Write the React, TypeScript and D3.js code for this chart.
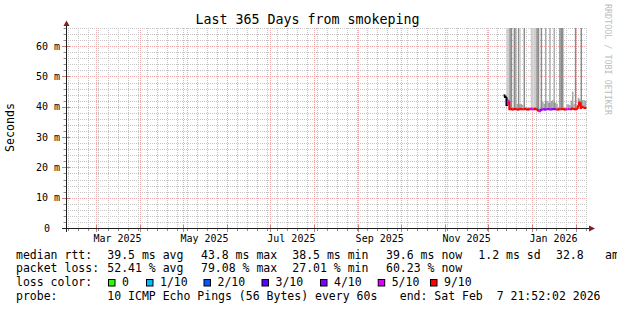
import React from 'react';
import * as d3 from 'd3';

const W = 617;
const H = 310;

const titleText = 'Last 365 Days from smokeping';
const yAxisTitle = 'Seconds';
const watermark = 'RRDTOOL / TOBI OETIKER';

const yTickValues = [0, 10, 20, 30, 40, 50, 60];
const yTickLabels = ['0', '10 m', '20 m', '30 m', '40 m', '50 m', '60 m'];

// daily series starting 2025-12-12
const seriesStart = new Date(2025, 11, 12);
const medianMs = [
  43.7, 43.2, 40.6, 41.8, 39.2, 39.3, 39.1, 39.2, 39.3, 39.2,
  39.1, 39.2, 39.3, 39.2, 39.2, 39.3, 39.2, 39.1, 39.2, 39.3,
  39.2, 39.2, 39.3, 39.2, 38.8, 38.5, 39.0, 39.1, 39.2, 39.1,
  39.2, 39.3, 39.2, 39.1, 39.2, 39.3, 39.2, 39.2, 39.1, 39.2,
  39.2, 39.3, 39.2, 39.1, 39.2, 39.2, 39.3, 39.2, 39.4, 39.3,
  39.2, 39.3, 40.2, 41.4, 39.6, 40.0, 39.8, 39.6,
];
// index into lossColors, -1 = black
const lossIdx = [
  -1, -1, -1, 5, 6, 6, 6, 6, 6, 6,
  6, 6, 6, 6, 6, 6, 6, 6, 6, 5,
  5, 6, 6, 6, 6, 5, 4, 5, 4, 4,
  5, 4, 4, 5, 4, 4, 4, 6, 6, 6,
  6, 6, 6, 6, 5, 5, 5, 6, 6, 6,
  6, 6, 6, 6, 6, 6, 6, 6,
];
// top of the low smoke band (ms)
const smokeTopMs = [
  44.2, 44.0, 42.5, 42.5, 39.8, 39.9, 39.7, 39.8, 39.9, 40.9,
  40.9, 40.8, 40.9, 40.6, 39.8, 39.9, 39.8, 39.7, 39.8, 39.9,
  39.8, 39.8, 39.9, 39.8, 39.5, 39.3, 41.2, 41.6, 41.0, 41.8,
  42.0, 41.4, 41.2, 41.9, 42.2, 41.5, 41.3, 41.0, 39.7, 39.8,
  39.8, 39.9, 39.8, 39.7, 40.8, 40.8, 40.6, 42.0, 45.0, 41.0,
  39.8, 39.9, 43.0, 42.5, 40.4, 42.2, 42.2, 42.0,
];
// tall smoke columns reaching beyond the top: 0 none, 1 light, 2 mid, 3 dark
const tallSmoke = [
  0, 0, 1, 1, 3, 3, 0, 3, 2, 0,
  3, 1, 0, 0, 3, 0, 0, 0, 0, 1,
  1, 1, 1, 3, 3, 0, 3, 0, 0, 2,
  0, 0, 2, 0, 0, 2, 0, 0, 0, 3,
  3, 3, 0, 0, 0, 0, 0, 0, 0, 0,
  3, 0, 0, 0, 3, 0, 0, 0,
];

const lossLabels = ['0', '1/10', '2/10', '3/10', '4/10', '5/10', '9/10'];
const lossColors = ['#26ff00', '#00b8ff', '#0059ff', '#5e00ff', '#7e00ff', '#dd00ff', '#ff0000'];

const rttStats = ['39.5 ms avg', '43.8 ms max', '38.5 ms min', '39.6 ms now', '1.2 ms sd', '32.8', 'am/s'];
const lossStats = ['52.41 % avg', '79.08 % max', '27.01 % min', '60.23 % now'];
const probeText = '10 ICMP Echo Pings (56 Bytes) every 60s';
const endText = 'end: Sat Feb  7 21:52:02 2026';

// layout
const X0 = 66;
const X1 = 588;
const Y0 = 228;
const YTOP = 28;
const rttX = [107.3, 201, 292.3, 386, 478.3, 556, 605];
const swatchX = [108, 146, 203.5, 261.5, 320, 377.7, 430];
const legendY = [258.5, 272, 286, 300];

const MONO = '"DejaVu Sans Mono", monospace';
const shadeColors = ['none', '#cdcdcd', '#a9a9a9', '#8a8a8a'];
const keepSpaces = (s: string) => s.replace(/ /g, '\u00A0');

export default function App() {
  const x = d3.scaleTime()
    .domain([new Date(2025, 2, 1), new Date(2026, 1, 1)])
    .range([96.2, 576.3]);
  const y = d3.scaleLinear().domain([0, 66]).range([Y0, YTOP]);
  const tStart = x.invert(X0);
  const tEnd = x.invert(X1);

  const minorV = d3.timeSunday.range(tStart, tEnd);
  const majorV = d3.timeMonth.range(d3.timeMonth.ceil(tStart), tEnd);
  const labelMonths = majorV.filter((d) => d.getMonth() % 2 === 0);
  const minorH = d3.range(2, 67, 2).filter((v) => v % 10 !== 0);
  const majorH = [10, 20, 30, 40, 50, 60];

  const dayX = (i: number) => x(d3.timeDay.offset(seriesStart, i));
  const px = (v: number) => Math.round(v) + 0.5;

  const minorColor = '#c4c4c4';
  const majorColor = '#f0a8a8';

  return (
    <svg width={W} height={H} style={{ position: 'absolute', left: 0, top: 0, background: '#fff' }}
      fontFamily={MONO}>
      <rect x={0} y={0} width={W} height={H} fill="#fff" />
      {/* minor grid */}
      <g stroke={minorColor} strokeWidth={1} strokeDasharray="1,1">
        {minorV.map((d, i) => (
          <line key={'mv' + i} x1={px(x(d))} x2={px(x(d))} y1={YTOP} y2={Y0} />
        ))}
        {minorH.map((v) => (
          <line key={'mh' + v} x1={X0} x2={X1} y1={px(y(v))} y2={px(y(v))} />
        ))}
      </g>
      {/* major grid */}
      <g stroke={majorColor} strokeWidth={1} strokeDasharray="1,1">
        {majorV.map((d, i) => (
          <line key={'Mv' + i} x1={px(x(d))} x2={px(x(d))} y1={YTOP} y2={Y0} />
        ))}
        {majorH.map((v) => (
          <line key={'Mh' + v} x1={X0} x2={X1} y1={px(y(v))} y2={px(y(v))} />
        ))}
      </g>

      {/* tall smoke */}
      {tallSmoke.map((s, i) => s > 0 ? (
        <rect key={'t' + i} x={dayX(i)} width={dayX(i + 1) - dayX(i)}
          y={y(66)} height={y(medianMs[i] + 0.2) - y(66)} fill={shadeColors[s]} />
      ) : null)}
      {/* low smoke band */}
      {smokeTopMs.map((v, i) => v > medianMs[i] + 0.3 ? (
        <rect key={'s' + i} x={dayX(i)} width={dayX(i + 1) - dayX(i)}
          y={y(v)} height={y(medianMs[i] - 0.3) - y(v)} fill={tallSmoke[i] ? '#8f8f8f' : '#a4a4a4'} />
      ) : null)}

      {/* median line, colored by loss */}
      {medianMs.map((v, i) => {
        const prev = i > 0 ? medianMs[i - 1] : v;
        const c = lossIdx[i] < 0 ? '#000' : lossColors[lossIdx[i]];
        return (
          <path key={'m' + i} fill="none" stroke={c} strokeWidth={2}
            d={`M${dayX(i)},${y(prev)}V${y(v)}H${dayX(i + 1)}`} />
        );
      })}

      {/* y ticks */}
      {minorH.map((v) => (
        <line key={'yt' + v} x1={63.5} x2={66} y1={px(y(v))} y2={px(y(v))} stroke="#8c8c8c" />
      ))}
      {majorH.map((v) => (
        <line key={'yT' + v} x1={62} x2={70} y1={px(y(v))} y2={px(y(v))} stroke="#d08080" />
      ))}
      {/* x ticks */}
      {minorV.map((d, i) => (
        <line key={'xt' + i} x1={px(x(d))} x2={px(x(d))} y1={228} y2={231} stroke="#8c8c8c" />
      ))}
      {majorV.map((d, i) => (
        <line key={'xT' + i} x1={px(x(d))} x2={px(x(d))} y1={225} y2={232} stroke="#d08080" />
      ))}

      {/* axes */}
      <line x1={62} x2={590} y1={228.5} y2={228.5} stroke="#1f1f1f" />
      <line x1={66.5} x2={66.5} y1={232} y2={24} stroke="#1f1f1f" />
      <polygon points="63.5,26 69.5,26 66.5,20.5" fill="#7f1f1f" />
      <polygon points="589,225.5 589,231.5 595,228.5" fill="#7f1f1f" />

      {/* y tick labels */}
      {yTickValues.map((v, i) => (
        <text key={'yl' + v} x={v === 0 ? 50 : 60} y={y(v) + 3.5} fontSize={10}
          textAnchor="end" fill="#000">{keepSpaces(yTickLabels[i])}</text>
      ))}
      {/* x labels */}
      {labelMonths.map((d, i) => (
        <text key={'xl' + i} x={x(new Date(d.getFullYear(), d.getMonth(), 16))} y={241.5}
          fontSize={10} textAnchor="middle" fill="#000">{d3.timeFormat('%b %Y')(d)}</text>
      ))}

      {/* title */}
      <text x={307.5} y={24} fontSize={13.3} textAnchor="middle" fill="#000">{titleText}</text>
      <text transform="translate(14,127.5) rotate(-90)" fontSize={11.6} textAnchor="middle" fill="#000">{yAxisTitle}</text>
      <text transform="translate(605,4) rotate(90)" fontSize={8.4} fill="#bdbdbd">{watermark}</text>

      {/* legend */}
      <g fontSize={11.5} fill="#000">
        <text x={16} y={legendY[0]}>median rtt:</text>
        {rttStats.map((s, i) => (
          <text key={'r' + i} x={rttX[i]} y={legendY[0]}>{keepSpaces(s)}</text>
        ))}
        <text x={16} y={legendY[1]}>packet loss:</text>
        {lossStats.map((s, i) => (
          <text key={'l' + i} x={rttX[i]} y={legendY[1]}>{keepSpaces(s)}</text>
        ))}
        <text x={16} y={legendY[2]}>loss color:</text>
        {lossLabels.map((s, i) => (
          <g key={'c' + i}>
            <rect x={swatchX[i] + 0.5} y={279.5} width={6.5} height={6.5} fill={lossColors[i]} stroke="#000" />
            <text x={swatchX[i] + 14} y={legendY[2]}>{s}</text>
          </g>
        ))}
        <text x={16} y={legendY[3]}>probe:</text>
        <text x={107.3} y={legendY[3]}>{keepSpaces(probeText)}</text>
        <text x={600.5} y={legendY[3]} textAnchor="end">{keepSpaces(endText)}</text>
      </g>
    </svg>
  );
}
